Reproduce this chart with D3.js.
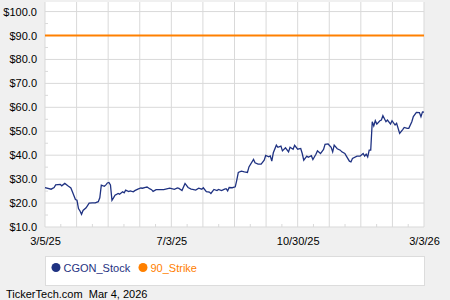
<!DOCTYPE html>
<html>
<head>
<meta charset="utf-8">
<script src="https://cdn.jsdelivr.net/npm/d3@7"></script>
<style>
  html, body { margin: 0; padding: 0; background: #f0f0f0; }
  #chart svg { display: block; font-family: "Liberation Sans", Arial, sans-serif; }
  .grid line { stroke: #d9d9d9; stroke-width: 1; }
  .axis text { font-size: 11px; fill: #000; }
  .axis path { display: none; }
  .minor line { stroke: #d9d9d9; }
  .stock { fill: none; stroke: #1f3282; stroke-width: 1.3; }
  .strike { fill: none; stroke: #ff8000; stroke-width: 2; }
</style>
</head>
<body>
<div id="chart"></div>
<script>
// trading-day index (0 = 3/5/25 ... 249 = 3/3/26) and closing price
const stockDays = [
  0, 4, 6, 7, 10, 11, 13, 15, 17, 18, 20, 21, 22, 23, 24, 25, 27, 29, 31, 33,
  35, 36, 37, 39, 40, 41, 42, 43, 44, 45, 46, 47, 48, 49, 51, 52, 53, 55, 56, 58,
  59, 61, 63, 64, 66, 67, 69, 70, 71, 73, 75, 78, 80, 82, 85, 87, 88, 90, 92, 94,
  96, 97, 99, 101, 103, 104, 106, 108, 109, 111, 113, 114, 116, 118, 119, 120, 121, 123, 125, 126,
  127, 129, 131, 133, 134, 137, 138, 140, 142, 144, 145, 147, 148, 149, 150, 152, 153, 155, 156, 158,
  160, 161, 163, 164, 166, 168, 169, 170, 172, 173, 175, 176, 178, 179, 181, 183, 184, 186, 188, 189,
  190, 192, 194, 195, 197, 198, 200, 201, 202, 205, 207, 209, 210, 211, 212, 213, 214, 215, 216, 217,
  218, 220, 221, 222, 224, 225, 227, 228, 230, 231, 233, 235, 236, 238, 239, 241, 242, 244, 246, 247,
  248, 249
];
const stockPrices = [
  26.5, 25.8, 26.5, 27.6, 27.8, 27.2, 28.2, 27.2, 26.3, 24.7, 21.5, 21.2, 17.7, 16.7, 15.3, 16.9, 18.0, 20.0, 20.1, 20.1,
  20.6, 22.2, 27.5, 27.0, 27.6, 28.4, 28.6, 27.6, 21.2, 22.2, 23.3, 23.6, 24.0, 23.7, 24.7, 24.3, 25.4, 24.8, 25.1, 24.7,
  25.2, 25.8, 26.3, 26.2, 26.6, 26.7, 25.9, 25.6, 24.9, 25.6, 25.6, 25.6, 25.9, 26.2, 25.7, 26.3, 26.1, 25.2, 28.2, 26.5,
  25.8, 25.7, 25.4, 26.2, 25.8, 26.4, 24.8, 24.6, 24.0, 25.7, 25.2, 25.7, 25.2, 25.8, 26.0, 25.1, 26.5, 26.4, 26.8, 29.6,
  32.8, 33.3, 33.0, 32.8, 35.1, 38.2, 36.8, 36.3, 36.3, 37.9, 39.9, 39.3, 39.7, 37.5, 41.0, 44.2, 43.3, 43.8, 41.8, 43.1,
  41.4, 43.3, 42.5, 44.1, 42.5, 42.8, 40.7, 37.9, 39.6, 39.1, 39.8, 38.2, 40.4, 41.8, 40.7, 42.4, 44.5, 44.7, 43.3, 41.4,
  44.2, 42.7, 42.1, 41.4, 40.7, 39.6, 37.5, 37.2, 38.6, 39.6, 39.6, 40.7, 39.6, 40.4, 39.3, 42.1, 42.1, 54.0, 52.2, 54.4,
  53.0, 54.4, 54.7, 56.5, 54.0, 54.7, 53.0, 54.4, 52.6, 53.3, 49.1, 50.7, 51.6, 51.2, 51.2, 54.0, 56.1, 57.9, 57.8, 56.1,
  58.1, 58.0
];
const strikePrice = 90;

const yTicks = [10, 20, 30, 40, 50, 60, 70, 80, 90, 100];
const xTickDays = [0, 83, 166, 249];
const xTickLabels = ['3/5/25', '7/3/25', '10/30/25', '3/3/26'];
const seriesNames = ['CGON_Stock', '90_Strike'];
const seriesColors = ['#1f3282', '#ff8000'];

let data;

const containerSelector = '#chart';
const totalWidth = 450,
      totalHeight = 300,
      margins = {
        top: 2,
        right: 26,
        bottom: 73,
        left: 45
      };

let width,
    height,
    xScale,
    yScale,
    line;

let $svg,
    $g;

function init() {
  data = stockDays.map((d, i) => ({ day: d, price: stockPrices[i] }));
  constructChart();
}

function constructChart() {
  width = totalWidth - margins.left - margins.right;
  height = totalHeight - margins.top - margins.bottom;

  xScale = d3.scaleLinear()
    .domain([0, 249])
    .range([0, width]);

  yScale = d3.scaleLinear()
    .domain([10, 104])
    .range([height, 0]);

  line = d3.line()
    .x(d => xScale(d.day))
    .y(d => yScale(d.price));

  $svg = d3.select(containerSelector).append('svg')
    .attr('width', totalWidth)
    .attr('height', totalHeight);

  $g = $svg.append('g')
    .attr('transform', `translate(${margins.left}, ${margins.top})`);

  // plot background
  $g.append('rect')
    .attr('width', width)
    .attr('height', height)
    .attr('fill', '#fff');

  // vertical gridlines: 12 even steps, labels every 4th
  const gridDays = d3.range(13).map(i => i * 249 / 12);
  $g.append('g')
    .classed('grid', true)
    .selectAll('line')
    .data(gridDays)
    .enter()
    .append('line')
    .attr('x1', d => xScale(d))
    .attr('x2', d => xScale(d))
    .attr('y1', 0)
    .attr('y2', height);

  $g.append('g')
    .classed('grid', true)
    .selectAll('line')
    .data(yTicks)
    .enter()
    .append('line')
    .attr('x1', 0)
    .attr('x2', width)
    .attr('y1', d => yScale(d))
    .attr('y2', d => yScale(d));

  // minor ticks
  const minorDays = d3.range(12).map(i => (i + 0.5) * 249 / 12);
  $g.append('g')
    .classed('minor', true)
    .selectAll('line')
    .data(minorDays)
    .enter()
    .append('line')
    .attr('x1', d => xScale(d))
    .attr('x2', d => xScale(d))
    .attr('y1', height)
    .attr('y2', height - 3);

  $g.append('g')
    .classed('minor', true)
    .selectAll('line')
    .data(yTicks.slice(0, -1).map(t => t + 5))
    .enter()
    .append('line')
    .attr('x1', 0)
    .attr('x2', 3)
    .attr('y1', d => yScale(d))
    .attr('y2', d => yScale(d));

  const yAxis = d3.axisLeft(yScale)
    .tickValues(yTicks)
    .tickSize(0)
    .tickPadding(8)
    .tickFormat(d => '$' + d.toFixed(1));

  $g.append('g')
    .classed('axis', true)
    .call(yAxis);

  const xAxis = d3.axisBottom(xScale)
    .tickValues(xTickDays)
    .tickSize(0)
    .tickPadding(10)
    .tickFormat((d, i) => xTickLabels[i]);

  $g.append('g')
    .classed('axis', true)
    .attr('transform', `translate(0, ${height})`)
    .call(xAxis);

  $g.append('line')
    .classed('strike', true)
    .attr('x1', 0)
    .attr('x2', width)
    .attr('y1', yScale(strikePrice))
    .attr('y2', yScale(strikePrice));

  $g.append('path')
    .datum(data)
    .classed('stock', true)
    .attr('d', line);

  // legend
  const $legend = $svg.append('g')
    .attr('transform', `translate(${margins.left}, 256)`);

  $legend.append('rect')
    .attr('x', 0.5)
    .attr('y', 0.5)
    .attr('width', width)
    .attr('height', 29)
    .attr('fill', '#fff')
    .attr('stroke', '#dcdcdc');

  const legendX = [11, 98];
  const $items = $legend.selectAll('.legend-item')
    .data(seriesNames)
    .enter()
    .append('g')
    .classed('legend-item', true)
    .attr('transform', (d, i) => `translate(${legendX[i]}, 11.5)`);

  $items.append('circle')
    .attr('r', 4.5)
    .attr('fill', (d, i) => seriesColors[i]);

  $items.append('text')
    .attr('x', 7.5)
    .attr('y', 4)
    .style('font-size', '11px')
    .attr('fill', (d, i) => seriesColors[i])
    .text(d => d);

  $svg.append('text')
    .attr('x', 6)
    .attr('y', 298)
    .style('font-size', '11px')
    .attr('fill', '#000')
    .text('TickerTech.com  Mar 4, 2026')
    .attr('xml:space', 'preserve')
    .style('white-space', 'pre');
}

init();
</script>
</body>
</html>
